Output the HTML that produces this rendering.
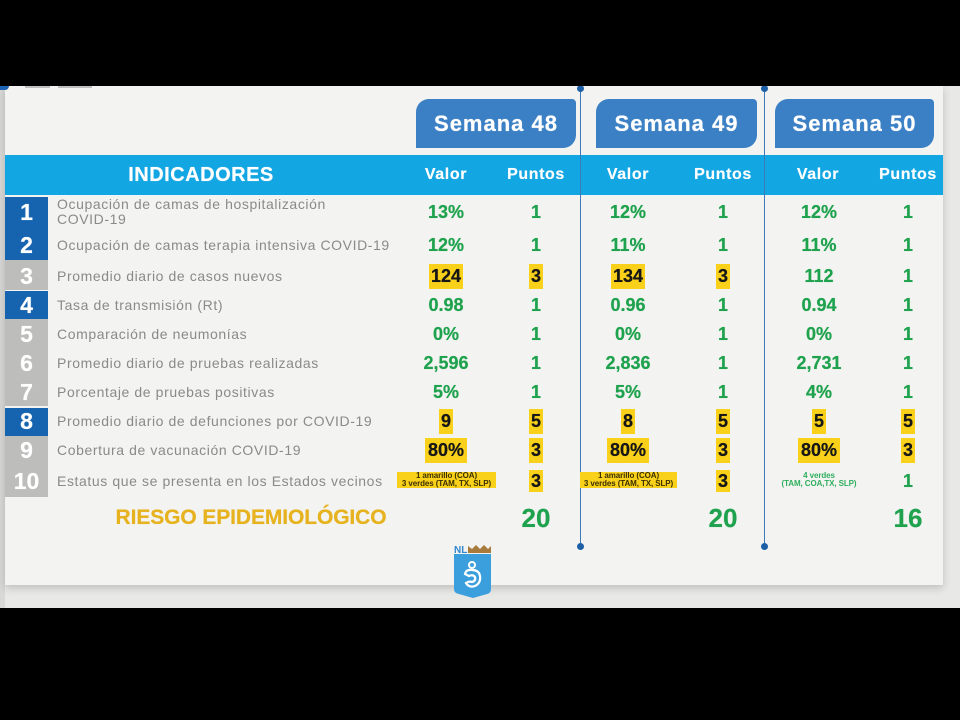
<!DOCTYPE html>
<html>
<head>
<meta charset="utf-8">
<style>
  html,body{margin:0;padding:0;}
  body{width:960px;height:720px;background:#000;position:relative;overflow:hidden;font-family:"Liberation Sans",Arial,sans-serif;}
  .abs{position:absolute;}
  #stage{position:absolute;left:0;top:86px;width:960px;height:522px;background:#e8e8e6;overflow:hidden;}
  #card{position:absolute;left:5px;top:0;width:938px;height:499px;background:#f3f3f1;box-shadow:0 3px 8px rgba(0,0,0,0.18);}
  .tab{position:absolute;top:13px;height:49px;background:#3b80c5;border-radius:13px 4px 13px 0;color:#fff;font-weight:bold;font-size:22px;letter-spacing:1px;text-align:center;line-height:49px;text-shadow:0 0 0.6px #fff;}
  .hdr{position:absolute;left:5px;top:69px;width:938px;height:40px;background:#12a6e3;}
  .ch{position:absolute;top:69px;height:40px;line-height:40px;width:100px;text-align:center;color:#fff;font-weight:bold;font-size:16px;letter-spacing:0.6px;text-shadow:0 0 0.5px #fff;}
  .num{position:absolute;left:5px;width:43px;color:#fff;font-weight:bold;font-size:23px;text-align:center;text-shadow:0 0 0.6px #fff;}
  .blue{background:#1664b0;}
  .gray{background:#bdbdbc;}
  .lbl{position:absolute;left:57px;color:#8a8a8a;font-size:14px;letter-spacing:0.6px;white-space:nowrap;}
  .v{position:absolute;width:120px;text-align:center;font-weight:bold;font-size:18px;color:#1fa24e;line-height:24px;text-shadow:0 0 0.5px currentColor;}
  .v span.y{background:#fad11a;color:#161616;padding:0 1.5px;display:inline-block;line-height:25px;}
  .vl{position:absolute;top:0;width:1.5px;height:461px;background:#3d79b6;}
  .dot{position:absolute;width:7px;height:7px;border-radius:50%;background:#1d5fa7;}
  .small{font-size:8px;line-height:8px;font-weight:bold;letter-spacing:-0.1px;}
</style>
</head>
<body>
<div id="stage">
  <div class="abs" style="left:0;top:0;width:5px;height:522px;background:#d8d8d6;"></div>
  <div id="card"></div>
  <div class="abs" style="left:0;top:0;width:9px;height:4px;background:#1d63b3;border-radius:0 0 4px 0;"></div>
  <div class="abs" style="left:25px;top:0;width:25px;height:2px;background:#bfbfbf;"></div>
  <div class="abs" style="left:58px;top:0;width:34px;height:2px;background:#bfbfbf;"></div>

  <!-- tabs -->
  <div class="tab" style="left:416px;width:160px;">Semana 48</div>
  <div class="tab" style="left:596px;width:161px;">Semana 49</div>
  <div class="tab" style="left:775px;width:159px;">Semana 50</div>

  <!-- header band -->
  <div class="hdr"></div>
  <div class="abs" style="left:100px;top:69px;width:202px;height:40px;line-height:40px;text-align:center;color:#fff;font-weight:bold;font-size:20px;letter-spacing:0.5px;text-shadow:0 0 0.6px #fff;">INDICADORES</div>
  <div class="ch" style="left:396px;">Valor</div>
  <div class="ch" style="left:486px;">Puntos</div>
  <div class="ch" style="left:578px;">Valor</div>
  <div class="ch" style="left:673px;">Puntos</div>
  <div class="ch" style="left:768px;">Valor</div>
  <div class="ch" style="left:858px;">Puntos</div>

  <!-- vertical lines -->
  <div class="vl" style="left:579.5px;"></div>
  <div class="vl" style="left:763.5px;"></div>
  <div class="dot" style="left:577px;top:-1px;"></div>
  <div class="dot" style="left:761px;top:-1px;"></div>
  <div class="dot" style="left:577px;top:457px;"></div>
  <div class="dot" style="left:761px;top:457px;"></div>

  <!-- number boxes -->
  <div class="abs blue" style="left:5px;top:111px;width:43px;height:63px;"></div>
  <div class="abs gray" style="left:5px;top:174px;width:43px;height:30px;"></div>
  <div class="abs blue" style="left:5px;top:205px;width:43px;height:28px;"></div>
  <div class="abs gray" style="left:5px;top:233px;width:43px;height:87px;"></div>
  <div class="abs blue" style="left:5px;top:322px;width:43px;height:28px;"></div>
  <div class="abs gray" style="left:5px;top:350px;width:43px;height:61px;"></div>

  <div class="num" style="top:113px;line-height:26px;">1</div>
  <div class="num" style="top:146px;line-height:26px;">2</div>
  <div class="num" style="top:177px;line-height:26px;">3</div>
  <div class="num" style="top:206px;line-height:26px;">4</div>
  <div class="num" style="top:235px;line-height:26px;">5</div>
  <div class="num" style="top:264px;line-height:26px;">6</div>
  <div class="num" style="top:293px;line-height:26px;">7</div>
  <div class="num" style="top:322px;line-height:26px;">8</div>
  <div class="num" style="top:351px;line-height:26px;">9</div>
  <div class="num" style="top:382px;line-height:26px;">10</div>

  <!-- labels -->
  <div class="lbl" style="top:111px;line-height:15px;">Ocupación de camas de hospitalización<br>COVID-19</div>
  <div class="lbl" style="top:150px;line-height:18px;">Ocupación de camas terapia intensiva COVID-19</div>
  <div class="lbl" style="top:181px;line-height:18px;">Promedio diario de casos nuevos</div>
  <div class="lbl" style="top:210px;line-height:18px;">Tasa de transmisión (Rt)</div>
  <div class="lbl" style="top:239px;line-height:18px;">Comparación de neumonías</div>
  <div class="lbl" style="top:268px;line-height:18px;">Promedio diario de pruebas realizadas</div>
  <div class="lbl" style="top:297px;line-height:18px;">Porcentaje de pruebas positivas</div>
  <div class="lbl" style="top:326px;line-height:18px;">Promedio diario de defunciones por COVID-19</div>
  <div class="lbl" style="top:355px;line-height:18px;">Cobertura de vacunación COVID-19</div>
  <div class="lbl" style="top:386px;line-height:18px;">Estatus que se presenta en los Estados vecinos</div>

  <!-- row 1 -->
  <div class="v" style="left:386px;top:114px;">13%</div>
  <div class="v" style="left:476px;top:114px;">1</div>
  <div class="v" style="left:568px;top:114px;">12%</div>
  <div class="v" style="left:663px;top:114px;">1</div>
  <div class="v" style="left:759px;top:114px;">12%</div>
  <div class="v" style="left:848px;top:114px;">1</div>
  <!-- row 2 -->
  <div class="v" style="left:386px;top:147px;">12%</div>
  <div class="v" style="left:476px;top:147px;">1</div>
  <div class="v" style="left:568px;top:147px;">11%</div>
  <div class="v" style="left:663px;top:147px;">1</div>
  <div class="v" style="left:759px;top:147px;">11%</div>
  <div class="v" style="left:848px;top:147px;">1</div>
  <!-- row 3 -->
  <div class="v" style="left:386px;top:178px;"><span class="y">124</span></div>
  <div class="v" style="left:476px;top:178px;"><span class="y">3</span></div>
  <div class="v" style="left:568px;top:178px;"><span class="y">134</span></div>
  <div class="v" style="left:663px;top:178px;"><span class="y">3</span></div>
  <div class="v" style="left:759px;top:178px;">112</div>
  <div class="v" style="left:848px;top:178px;">1</div>
  <!-- row 4 -->
  <div class="v" style="left:386px;top:207px;">0.98</div>
  <div class="v" style="left:476px;top:207px;">1</div>
  <div class="v" style="left:568px;top:207px;">0.96</div>
  <div class="v" style="left:663px;top:207px;">1</div>
  <div class="v" style="left:759px;top:207px;">0.94</div>
  <div class="v" style="left:848px;top:207px;">1</div>
  <!-- row 5 -->
  <div class="v" style="left:386px;top:236px;">0%</div>
  <div class="v" style="left:476px;top:236px;">1</div>
  <div class="v" style="left:568px;top:236px;">0%</div>
  <div class="v" style="left:663px;top:236px;">1</div>
  <div class="v" style="left:759px;top:236px;">0%</div>
  <div class="v" style="left:848px;top:236px;">1</div>
  <!-- row 6 -->
  <div class="v" style="left:386px;top:265px;">2,596</div>
  <div class="v" style="left:476px;top:265px;">1</div>
  <div class="v" style="left:568px;top:265px;">2,836</div>
  <div class="v" style="left:663px;top:265px;">1</div>
  <div class="v" style="left:759px;top:265px;">2,731</div>
  <div class="v" style="left:848px;top:265px;">1</div>
  <!-- row 7 -->
  <div class="v" style="left:386px;top:294px;">5%</div>
  <div class="v" style="left:476px;top:294px;">1</div>
  <div class="v" style="left:568px;top:294px;">5%</div>
  <div class="v" style="left:663px;top:294px;">1</div>
  <div class="v" style="left:759px;top:294px;">4%</div>
  <div class="v" style="left:848px;top:294px;">1</div>
  <!-- row 8 -->
  <div class="v" style="left:386px;top:323px;"><span class="y">9</span></div>
  <div class="v" style="left:476px;top:323px;"><span class="y">5</span></div>
  <div class="v" style="left:568px;top:323px;"><span class="y">8</span></div>
  <div class="v" style="left:663px;top:323px;"><span class="y">5</span></div>
  <div class="v" style="left:759px;top:323px;"><span class="y">5</span></div>
  <div class="v" style="left:848px;top:323px;"><span class="y">5</span></div>
  <!-- row 9 -->
  <div class="v" style="left:386px;top:352px;"><span class="y" style="padding:0 3px;">80%</span></div>
  <div class="v" style="left:476px;top:352px;"><span class="y">3</span></div>
  <div class="v" style="left:568px;top:352px;"><span class="y" style="padding:0 3px;">80%</span></div>
  <div class="v" style="left:663px;top:352px;"><span class="y">3</span></div>
  <div class="v" style="left:759px;top:352px;"><span class="y" style="padding:0 3px;">80%</span></div>
  <div class="v" style="left:848px;top:352px;"><span class="y">3</span></div>
  <!-- row 10 -->
  <div class="abs small" style="left:397px;top:386px;width:99px;height:16px;background:#fad11a;color:#3a3000;text-align:center;">1 amarillo (COA)<br>3 verdes (TAM, TX, SLP)</div>
  <div class="v" style="left:476px;top:383px;"><span class="y" style="line-height:22px;">3</span></div>
  <div class="abs small" style="left:580px;top:386px;width:97px;height:16px;background:#fad11a;color:#3a3000;text-align:center;">1 amarillo (COA)<br>3 verdes (TAM, TX, SLP)</div>
  <div class="v" style="left:663px;top:383px;"><span class="y" style="line-height:22px;">3</span></div>
  <div class="abs small" style="left:769px;top:386px;width:100px;height:16px;color:#2fae5e;text-align:center;">4 verdes<br>(TAM, COA,TX, SLP)</div>
  <div class="v" style="left:848px;top:383px;">1</div>

  <!-- totals -->
  <div class="abs" style="left:90px;top:419px;width:322px;text-align:center;line-height:26px;font-weight:bold;font-size:21px;color:#e6b21e;letter-spacing:-0.1px;text-shadow:0 0 0.5px #e6b21e;">RIESGO EPIDEMIOLÓGICO</div>
  <div class="v" style="left:476px;top:417px;font-size:26px;line-height:30px;">20</div>
  <div class="v" style="left:663px;top:417px;font-size:26px;line-height:30px;">20</div>
  <div class="v" style="left:848px;top:417px;font-size:26px;line-height:30px;">16</div>

  <!-- logo -->
  <svg class="abs" style="left:452px;top:457px;" width="42" height="56" viewBox="0 0 42 56">
    <text x="2" y="10" font-family="Liberation Sans, sans-serif" font-weight="bold" font-size="10" fill="#2f86cf">NL</text>
    <path d="M16 10 L16 3 L20 6 L24 2 L28 6 L32 2 L36 6 L39 3 L39 10 Z" fill="#a87a3c"/>
    <path d="M2 11 L39 11 L39 46 Q39 50 35 51 L21 55 L7 51 Q2 50 2 46 Z" fill="#3b9fdd"/>
    <circle cx="20" cy="22" r="3" fill="none" stroke="#fff" stroke-width="2"/>
    <path d="M13 31 Q14 26 20 27 Q27 27 28 33 Q29 40 23 43 Q17 45 14 40 Q17 38 20 39 Q24 38 23 34 Q21 31 17 33 Z" fill="none" stroke="#fff" stroke-width="2.2"/>
  </svg>
</div>
</body>
</html>
